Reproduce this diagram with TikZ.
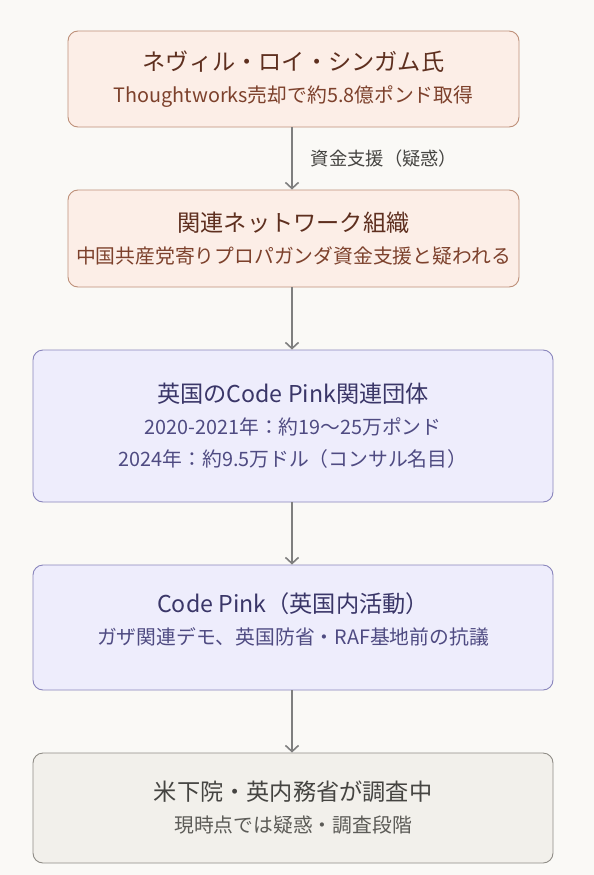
\documentclass[tikz,border=0pt]{standalone}
\usepackage{fontspec}
\setmainfont{Noto Sans CJK JP}
\usetikzlibrary{arrows.meta}
\definecolor{bg}{HTML}{FAF9F6}
\definecolor{pfill}{HTML}{FCEEE7}
\definecolor{pdraw}{HTML}{BE9079}
\definecolor{ptext}{HTML}{5E2F1F}
\definecolor{psub}{HTML}{7D412C}
\definecolor{lfill}{HTML}{EEEDFC}
\definecolor{ldraw}{HTML}{8985BC}
\definecolor{ltext}{HTML}{3A3668}
\definecolor{lsub}{HTML}{4F4B82}
\definecolor{gfill}{HTML}{F2F0EB}
\definecolor{gdraw}{HTML}{8F8C86}
\definecolor{gtext}{HTML}{454441}
\definecolor{gsub}{HTML}{5C5B57}
\definecolor{arr}{HTML}{7F7F7F}
\tikzset{
  box/.style={rectangle, rounded corners=10pt, line width=0.9pt, align=center, inner sep=0pt,
    font=\fontsize{19.8}{32}\selectfont},
  peach/.style={box, fill=pfill, draw=pdraw, text=psub},
  lav/.style={box, fill=lfill, draw=ldraw, text=lsub},
  grey/.style={box, fill=gfill, draw=gdraw, text=gsub},
  conn/.style={draw=arr, line width=1.6pt, -{Straight Barb[length=6pt,width=13pt,line width=1.6pt]}},
  elabel/.style={font=\fontsize{18.3}{20}\selectfont, text=gtext, anchor=west, inner sep=0pt}
}
\newcommand{\ttl}[2]{{\color{#1}\fontsize{23.2}{32}\selectfont #2}}
\begin{document}
\begin{tikzpicture}[x=1pt,y=-1pt]
\fill[bg] (0,0) rectangle (594,875);
\useasboundingbox (0,0) rectangle (594,875);
\node[peach, minimum width=451pt, minimum height=96pt] (n1) at (293.5,79)
  {\ttl{ptext}{ネヴィル・ロイ・シンガム氏}\\Thoughtworks売却で約5.8億ポンド取得};
\node[peach, minimum width=451pt, minimum height=97pt] (n2) at (293.5,238.5)
  {\ttl{ptext}{関連ネットワーク組織}\\中国共産党寄りプロパガンダ資金支援と疑われる};
\node[lav, minimum width=520pt, minimum height=152pt] (n3) at (293,426)
  {\ttl{ltext}{英国のCode Pink関連団体}\\2020-2021年：約19〜25万ポンド\\2024年：約9.5万ドル（コンサル名目）};
\node[lav, minimum width=520pt, minimum height=125pt, text depth=17pt] (n4) at (293,627.5)
  {\ttl{ltext}{Code Pink（英国内活動）}\\ガザ関連デモ、英国防省・RAF基地前の抗議};
\node[grey, minimum width=520pt, minimum height=110pt] (n5) at (293,808)
  {\ttl{gtext}{米下院・英内務省が調査中}\\現時点では疑惑・調査段階};
\draw[conn] (n1.south -| 292,0) -- (n2.north -| 292,0)
  node[midway, xshift=18pt, elabel] (l1) {資金支援（疑惑）};
\draw[conn] (n2.south -| 292,0) -- (n3.north -| 292,0);
\draw[conn] (n3.south -| 292,0) -- (n4.north -| 292,0);
\draw[conn] (n4.south -| 292,0) -- (n5.north -| 292,0);
\end{tikzpicture}
\end{document}
